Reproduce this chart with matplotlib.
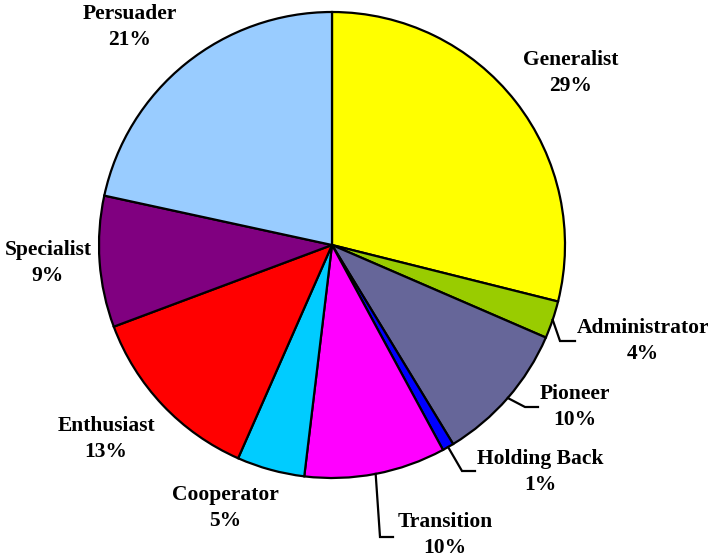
import matplotlib
matplotlib.use("Agg")
import matplotlib.pyplot as plt
import numpy as np

# slice data, clockwise from 12 o'clock
names = ['Generalist', 'Administrator', 'Pioneer', 'Holding Back', 'Transition',
         'Cooperator', 'Enthusiast', 'Specialist', 'Persuader']
values = [28.9, 2.6, 9.8, 0.8, 9.8, 4.7, 12.7, 9.1, 21.6]
pct_labels = ['29%', '4%', '10%', '1%', '10%', '5%', '13%', '9%', '21%']
colors = ['#FFFF00', '#99CC00', '#666699', '#0000FF', '#FF00FF',
          '#00CCFF', '#FF0000', '#800080', '#99CCFF']

# layout (pixel coords, y measured from top)
W, H = 708, 560
cx, cy, r = 332, 245, 233
label_pos = [(571, 73), (643, 341), (575, 407), (540, 472), (445, 535),
             (225, 508), (106, 439), (48, 263), (130, 27)]
# elbow of leader lines, only for the small slices on the right
elbows = {1: (560, 341, 575), 2: (525, 407, 538), 3: (462, 471, 475), 4: (380, 537, 393)}

plt.rcParams['font.family'] = ['Liberation Serif', 'DejaVu Serif']

fig = plt.figure(figsize=(W / 100, H / 100), dpi=100)
ax = fig.add_axes([0, 0, 1, 1])

wedges, _ = ax.pie(values, colors=colors, startangle=90, counterclock=False,
                   center=(cx, H - cy), radius=r,
                   wedgeprops=dict(edgecolor='black', linewidth=1.6))
# pie() resets the limits, so set them afterwards
ax.set_xlim(0, W)
ax.set_ylim(0, H)
ax.set_aspect('equal')
ax.axis('off')

for i, w in enumerate(wedges):
    lx, ly = label_pos[i]
    ax.text(lx, H - ly, names[i] + '\n' + pct_labels[i], ha='center', va='center',
            fontsize=15.5, fontweight='bold', linespacing=1.45)
    if i in elbows:
        ang = np.deg2rad((w.theta1 + w.theta2) / 2)
        sx = cx + r * np.cos(ang)
        sy = (H - cy) + r * np.sin(ang)
        ex, ey, hx = elbows[i]
        ax.plot([sx, ex, hx], [sy, H - ey, H - ey], color='black', lw=1.6,
                solid_joinstyle='miter')

fig.savefig('out.png', dpi=100)
